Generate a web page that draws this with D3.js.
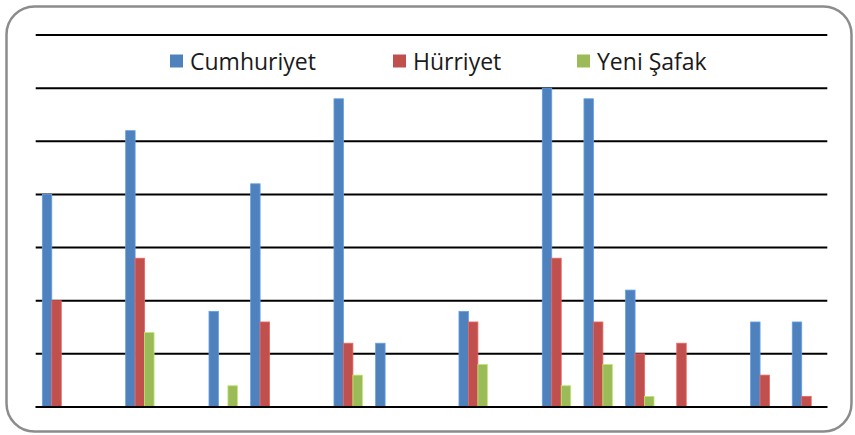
<!DOCTYPE html>
<html>
<head>
<meta charset="utf-8">
<script src="https://cdn.jsdelivr.net/npm/d3@7"></script>
<style>
  html, body { margin: 0; padding: 0; background: #fff; }
  svg { display: block; }
</style>
</head>
<body>
<svg id="chart" width="855" height="435"></svg>
<script>
// ---- data ----
const categories = ["1","2","3","4","5","6","7","8","9","10","11","12","13","14","15","16","17","18","19"];
const seriesNames = ["Cumhuriyet", "Hürriyet", "Yeni Şafak"];
const cumhuriyet = [4.0, 0, 5.2, 0, 1.8, 4.2, 0, 5.8, 1.2, 0, 1.8, 0, 6.0, 5.8, 2.2, 0, 0, 1.6, 1.6];
const hurriyet   = [2.0, 0, 2.8, 0, 0,   1.6, 0, 1.2, 0,   0, 1.6, 0, 2.8, 1.6, 1.0, 1.2, 0, 0.6, 0.2];
const yeniSafak  = [0,   0, 1.4, 0, 0.4, 0,   0, 0.6, 0,   0, 0.8, 0, 0.4, 0.8, 0.2, 0, 0, 0,   0];
const yTicks = [0, 1, 2, 3, 4, 5, 6, 7];
const colors = ["#4F81BD", "#C0504D", "#9BBB59"];

const seriesValues = [cumhuriyet, hurriyet, yeniSafak];
const svg = d3.select("#chart");

// outer rounded frame
svg.append("rect")
  .attr("x", 6.5).attr("y", 6.5)
  .attr("width", 845).attr("height", 425)
  .attr("rx", 28).attr("ry", 28)
  .attr("fill", "#fff")
  .attr("stroke", "#8c8c8c")
  .attr("stroke-width", 2.5);

const plot = { left: 35.7, right: 827.3, top: 35, bottom: 407 };

const x0 = d3.scaleBand().domain(categories).range([plot.left, plot.right]).paddingInner(0).paddingOuter(0);
const x1 = d3.scaleBand().domain(seriesNames).range([0, x0.bandwidth()]).paddingInner(0).paddingOuter(0.7);
const y = d3.scaleLinear().domain([0, 7]).range([plot.bottom, plot.top]);

// gridlines
svg.append("g").selectAll("line").data(yTicks).join("line")
  .attr("x1", plot.left).attr("x2", plot.right)
  .attr("y1", d => y(d)).attr("y2", d => y(d))
  .attr("stroke", "#000").attr("stroke-width", 2);

// bars
const groups = svg.append("g").selectAll("g").data(categories).join("g")
  .attr("transform", d => `translate(${x0(d)},0)`);

groups.selectAll("rect")
  .data((c, i) => seriesNames.map((s, k) => ({ s, k, v: seriesValues[k][i] })).filter(d => d.v > 0))
  .join("rect")
  .attr("x", d => x1(d.s))
  .attr("width", x1.bandwidth())
  .attr("y", d => y(d.v))
  .attr("height", d => y(0) - y(d.v))
  .attr("fill", d => colors[d.k])
  .attr("stroke", d => d3.color(colors[d.k]).brighter(0.6))
  .attr("stroke-width", 0.8);

// redraw baseline on top
svg.append("line")
  .attr("x1", plot.left).attr("x2", plot.right)
  .attr("y1", y(0)).attr("y2", y(0))
  .attr("stroke", "#000").attr("stroke-width", 2);

// legend
const legendX = [170, 393, 577];
const legend = svg.append("g").selectAll("g").data(seriesNames).join("g")
  .attr("transform", (d, i) => `translate(${legendX[i]},0)`);
legend.append("rect")
  .attr("x", 0).attr("y", 54.5).attr("width", 13).attr("height", 13)
  .attr("fill", (d, i) => colors[i]);
legend.append("text")
  .attr("x", 20).attr("y", 69.5)
  .attr("font-family", "'Open Sans', sans-serif")
  .attr("font-size", 23)
  .attr("fill", "#1a1a1a")
  .text(d => d);
</script>
</body>
</html>
